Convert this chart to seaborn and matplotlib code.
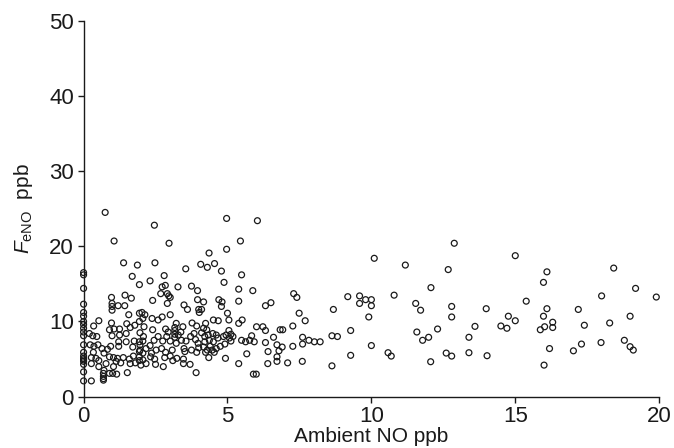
import matplotlib
matplotlib.use("Agg")
import matplotlib.pyplot as plt
import seaborn as sns
import pandas as pd

# Ambient NO (ppb) and FeNO (ppb)
ambient_no = [
    # x = 0 column
    0, 0, 0, 0, 0, 0, 0, 0, 0, 0, 0, 0, 0, 0, 0, 0, 0, 0, 0, 0,
    # 0 - 2 ppb
    1.69, 1.94, 1.44, 0.97, 0.99, 0.99, 0.99, 1.20, 1.43, 1.66, 1.57, 1.94,
    0.53, 0.35, 0.97, 0.90, 1.06, 1.25, 1.50, 1.62, 1.78, 1.48, 1.25, 0.99,
    0.20, 0.32, 0.46, 0.23, 0.36, 0.50, 0.64, 0.83, 0.94, 1.22, 1.22, 1.48,
    1.76, 1.71, 1.94, 0.34, 0.27, 0.43, 0.71, 0.90, 1.04, 1.18, 1.38, 1.59,
    1.73, 1.94, 0.27, 0.53, 0.53, 0.78, 1.04, 1.13, 1.29, 1.62, 1.80, 0.71,
    0.69, 0.69, 0.69, 0.69, 0.90, 1.01, 1.15, 1.52, 0.27,
    # 2 - 4 ppb
    2.80, 2.31, 2.73, 2.84, 2.68, 2.91, 2.96, 3.01, 3.28, 3.75, 3.96, 2.40,
    2.91, 3.49, 3.61, 3.96, 4.00, 4.02, 2.03, 2.13, 2.06, 1.94, 2.38, 2.59,
    2.73, 3.01, 2.10, 2.40, 1.96, 2.08, 2.06, 1.96, 1.96, 2.06, 2.17, 2.31,
    2.45, 2.59, 2.75, 2.33, 2.06, 1.99, 2.17, 2.47, 2.85, 2.94, 2.89, 3.01,
    3.22, 3.17, 3.17, 3.17, 3.17, 3.29, 3.38, 3.45, 3.40, 3.22, 3.56, 3.72,
    3.84, 3.89, 3.98, 3.77, 3.93, 3.49, 3.52, 3.75, 3.93, 4.00, 3.08, 3.01,
    3.10, 3.24, 2.85, 2.71, 2.52, 2.36, 2.82, 2.77, 2.50, 3.47, 3.47, 3.70,
    3.91, 1.94, 1.94,
    # 4 - 6.3 ppb
    5.49, 4.79, 4.88, 5.39, 5.88, 4.70, 4.81, 4.79, 5.39, 4.17, 4.10, 5.00,
    5.05, 5.51, 5.39, 4.51, 4.68, 4.24, 4.17, 4.28, 4.10, 4.21, 4.33, 4.49,
    4.61, 4.37, 4.21, 4.51, 4.67, 4.86, 4.95, 5.05, 5.12, 5.07, 5.19, 5.12,
    4.91, 4.75, 4.61, 4.47, 4.40, 4.30, 4.17, 4.24, 4.35, 4.54, 4.93, 5.39,
    5.49, 5.63, 5.77, 5.84, 5.93, 5.67, 5.90, 6.01, 6.23, 6.00,
    # high outliers
    0.75, 2.46, 1.06, 2.97, 4.97, 6.04, 4.97, 5.45, 4.36, 1.39, 1.87, 2.48,
    4.07, 4.30, 4.55, 3.55,
    # 6.3 - 10 ppb
    6.32, 6.51, 6.32, 6.60, 6.72, 6.79, 6.72, 6.72, 6.40, 6.83, 6.92, 6.90,
    6.32, 6.41, 7.09, 7.30, 7.41, 7.49, 7.70, 7.27, 7.27, 7.61, 7.61, 7.83,
    8.02, 8.22, 7.60, 8.68, 8.63, 8.82, 8.63, 9.18, 9.28, 9.28, 9.59, 9.59,
    9.80, 10.00, 10.00, 9.91, 10.00,
    # 10 - 15 ppb
    10.10, 10.79, 10.58, 10.69, 11.18, 11.54, 11.71, 11.58, 11.78, 11.99,
    12.07, 12.06, 12.30, 12.67, 12.88, 12.79, 12.79, 12.60, 12.79, 13.39,
    13.60, 13.39, 13.99, 14.02, 14.50, 14.71, 14.76, 15.00, 15.00,
    # 15 - 20 ppb
    15.38, 16.10, 15.98, 16.10, 15.98, 16.02, 15.87, 16.30, 16.30, 16.19,
    16.00, 17.19, 17.40, 17.30, 17.02, 18.00, 17.98, 18.28, 18.42, 18.79,
    18.99, 18.99, 19.10, 19.18, 19.90,
]

feno = [
    # x = 0 column
    16.5, 16.2, 14.4, 12.3, 11.2, 10.7, 10.0, 9.6, 9.1, 8.6, 8.1, 6.9,
    5.9, 5.4, 5.1, 4.9, 4.7, 4.3, 3.3, 2.1,
    # 0 - 2 ppb
    16.0, 14.9, 13.5, 13.2, 12.4, 12.0, 11.5, 12.1, 12.1, 13.1, 10.9, 11.1,
    10.1, 9.4, 9.8, 8.9, 9.0, 9.0, 9.7, 9.2, 9.5, 8.4, 8.2, 8.1,
    8.4, 8.1, 8.0, 6.9, 6.7, 6.9, 6.4, 6.3, 6.7, 7.3, 6.7, 7.3,
    7.4, 6.6, 7.3, 5.9, 5.2, 5.1, 5.8, 5.3, 5.2, 5.1, 5.2, 5.0,
    5.4, 6.0, 4.4, 4.8, 4.0, 4.4, 4.0, 4.7, 4.5, 4.4, 4.5, 3.5,
    3.1, 2.7, 2.4, 2.2, 3.1, 3.1, 3.0, 3.2, 2.1,
    # 2 - 4 ppb
    16.1, 15.4, 14.6, 14.8, 13.7, 13.7, 13.4, 13.2, 14.6, 14.7, 14.1, 12.8,
    12.4, 12.2, 11.6, 12.9, 11.6, 11.2, 11.2, 10.9, 10.4, 10.0, 10.4, 10.2,
    10.6, 10.9, 9.3, 8.9, 8.5, 8.0, 7.4, 6.9, 6.2, 5.8, 6.4, 6.8,
    7.5, 8.0, 7.4, 5.3, 4.9, 4.2, 4.4, 5.0, 9.0, 8.6, 8.0, 7.4,
    9.75, 9.2, 8.8, 8.3, 7.9, 8.2, 8.6, 9.3, 7.5, 7.1, 7.4, 8.0,
    8.4, 7.6, 7.1, 9.8, 9.4, 6.4, 6.0, 6.2, 5.9, 6.5, 6.2, 5.4,
    4.8, 5.1, 5.9, 6.4, 6.2, 5.8, 5.2, 4.0, 4.3, 5.0, 4.4, 4.3,
    3.2, 5.3, 4.8,
    # 4 - 6.3 ppb
    16.2, 16.7, 15.2, 14.3, 14.1, 12.9, 12.6, 12.0, 12.7, 12.6, 11.6, 11.1,
    10.2, 10.2, 9.75, 10.2, 10.1, 9.75, 9.1, 8.9, 8.5, 8.0, 8.2, 8.4,
    8.2, 7.5, 7.3, 7.3, 7.8, 8.0, 8.2, 8.8, 8.3, 7.8, 8.0, 7.4,
    7.0, 6.7, 6.4, 6.2, 6.7, 6.2, 6.6, 5.9, 5.2, 5.9, 5.1, 4.4,
    7.5, 7.3, 7.5, 8.1, 7.3, 5.7, 3.0, 9.3, 9.3, 3.0,
    # high outliers
    24.5, 22.8, 20.7, 20.4, 23.7, 23.4, 19.6, 20.7, 19.1, 17.8, 17.5, 17.8,
    17.6, 17.2, 17.7, 17.0,
    # 6.3 - 10 ppb
    12.1, 12.5, 8.8, 7.9, 6.9, 6.1, 5.3, 4.7, 4.4, 8.9, 8.9, 6.6,
    7.2, 6.0, 4.5, 13.7, 13.2, 11.1, 10.1, 9.4, 6.7, 7.9, 7.0, 7.5,
    7.3, 7.3, 4.7, 11.6, 8.1, 8.0, 4.1, 13.3, 8.8, 5.5, 13.4, 12.4,
    12.9, 12.9, 12.1, 10.6, 6.8,
    # 10 - 15 ppb
    18.4, 13.5, 5.85, 5.4, 17.5, 12.4, 11.5, 8.6, 7.5, 7.9,
    14.5, 4.65, 9.0, 16.9, 20.4, 12.0, 10.6, 5.8, 5.4, 7.9,
    9.35, 5.85, 11.7, 5.45, 9.4, 9.1, 10.7, 18.75, 10.1,
    # 15 - 20 ppb
    12.7, 16.6, 15.2, 11.7, 10.7, 9.3, 8.9, 9.9, 9.2, 6.4,
    4.2, 11.6, 9.5, 7.0, 6.1, 13.4, 7.2, 9.8, 17.1, 7.5,
    10.7, 6.65, 6.2, 14.4, 13.25,
]

x_ticks = [0, 5, 10, 15, 20]
y_ticks = [0, 10, 20, 30, 40, 50]

df = pd.DataFrame({"ambient": ambient_no, "feno": feno})

sns.set_style("ticks")
font_list = ["Liberation Sans Narrow", "Liberation Sans", "DejaVu Sans"]
plt.rcParams["font.family"] = font_list
plt.rcParams["mathtext.fontset"] = "custom"
plt.rcParams["mathtext.rm"] = "Liberation Sans"
plt.rcParams["mathtext.it"] = "Liberation Sans:italic"

fig = plt.figure(figsize=(6.74, 4.48), dpi=100)
ax = fig.add_axes([0.124, 0.1145, 0.854, 0.8395])

sns.scatterplot(data=df, x="ambient", y="feno", ax=ax, marker="o",
                s=18, facecolor="none", edgecolor="#1a1a1a", linewidth=0.9,
                clip_on=False, zorder=3)

ax.set_xlim(0, 20)
ax.set_ylim(0, 50)
ax.set_xticks(x_ticks)
ax.set_yticks(y_ticks)
ax.tick_params(axis="both", direction="out", length=4, width=1.0,
               color="#1a1a1a", labelsize=16, labelcolor="#1a1a1a", pad=3)
for side in ("top", "right"):
    ax.spines[side].set_visible(False)
for side in ("left", "bottom"):
    ax.spines[side].set_linewidth(1.0)
    ax.spines[side].set_color("#1a1a1a")

ax.set_xlabel("Ambient NO ppb", fontsize=15, color="#1a1a1a", labelpad=0)
ax.set_ylabel(r"$F_{\mathrm{eNO}}$  ppb", fontsize=15, color="#1a1a1a", labelpad=10)

fig.savefig("out.png", dpi=100)
